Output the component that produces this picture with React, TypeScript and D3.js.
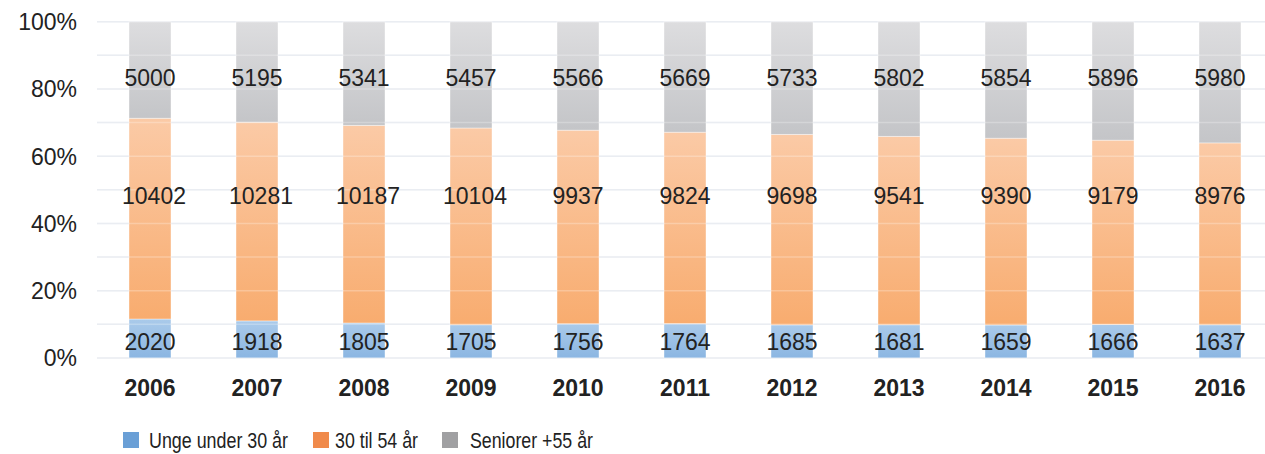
import React, { useEffect, useRef } from 'react';
import * as d3 from 'd3';

const years = ['2006', '2007', '2008', '2009', '2010', '2011', '2012', '2013', '2014', '2015', '2016'];
const unge = [2020, 1918, 1805, 1705, 1756, 1764, 1685, 1681, 1659, 1666, 1637];
const midt = [10402, 10281, 10187, 10104, 9937, 9824, 9698, 9541, 9390, 9179, 8976];
const senior = [5000, 5195, 5341, 5457, 5566, 5669, 5733, 5802, 5854, 5896, 5980];
const seriesNames = ['Unge under 30 år', '30 til 54 år', 'Seniorer +55 år'];
const yTicks = [0, 0.2, 0.4, 0.6, 0.8, 1];

export default function App() {
  const ref = useRef<SVGSVGElement>(null);

  useEffect(() => {
    draw();
    // eslint-disable-next-line react-hooks/exhaustive-deps
  }, []);

  function draw() {
    const svg = d3.select(ref.current);
    svg.selectAll('*').remove();
    const width = 1265;
    const height = 454;
    const font = 'Liberation Sans, Arial, sans-serif';

    const xScale = d3.scaleBand().domain(years).range([96.5, 1273.5]).paddingInner(0.6).paddingOuter(0.3);
    const yScale = d3.scaleLinear().domain([0, 1]).range([358, 21.7]);

    const defs = svg.append('defs');
    const grads = [
      { id: 'g0', top: '#aacaea', bottom: '#8bb6e2' },
      { id: 'g1', top: '#fbcaa6', bottom: '#f8ac6f' },
      { id: 'g2', top: '#dddddf', bottom: '#c4c5c8' },
    ];
    grads.forEach((g) => {
      const lg = defs.append('linearGradient').attr('id', g.id).attr('x1', 0).attr('y1', 0).attr('x2', 0).attr('y2', 1);
      lg.append('stop').attr('offset', '0%').attr('stop-color', g.top);
      lg.append('stop').attr('offset', '100%').attr('stop-color', g.bottom);
    });

    // gridlines
    const grid = d3.range(0, 11).map((d) => d / 10);
    svg.append('g')
      .selectAll('line')
      .data(grid)
      .enter()
      .append('line')
      .attr('x1', 97)
      .attr('x2', width)
      .attr('y1', (d) => yScale(d))
      .attr('y2', (d) => yScale(d))
      .attr('stroke', '#e3e7ee')
      .attr('stroke-width', 1.5);

    // stacked bars
    const rows = years.map((y, i) => {
      const total = unge[i] + midt[i] + senior[i];
      return { year: y, vals: [unge[i], midt[i], senior[i]], total };
    });
    const bw = 42;
    rows.forEach((r) => {
      let acc = 0;
      const cx = (xScale(r.year) as number) + xScale.bandwidth() / 2;
      r.vals.forEach((v, k) => {
        const y0 = acc / r.total;
        const y1 = (acc + v) / r.total;
        acc += v;
        svg.append('rect')
          .attr('x', cx - bw / 2)
          .attr('width', bw)
          .attr('y', yScale(y1))
          .attr('height', yScale(y0) - yScale(y1))
          .attr('fill', `url(#g${k})`)
          .attr('stroke', 'rgba(255,255,255,0.5)')
          .attr('stroke-width', 0.8);
      });
    });

    // gridlines over bars, faint
    svg.append('g')
      .selectAll('line')
      .data(grid)
      .enter()
      .append('line')
      .attr('x1', 97)
      .attr('x2', width)
      .attr('y1', (d) => yScale(d))
      .attr('y2', (d) => yScale(d))
      .attr('stroke', '#ffffff')
      .attr('stroke-opacity', 0.25)
      .attr('stroke-width', 1.5);

    // data labels, fixed levels
    const labelLevels = [0.048, 0.484, 0.833];
    rows.forEach((r) => {
      const cx = (xScale(r.year) as number) + xScale.bandwidth() / 2;
      r.vals.forEach((v, k) => {
        svg.append('text')
          .text(v)
          .attr('x', cx + (String(v).length > 4 ? 4 : 0))
          .attr('y', yScale(labelLevels[k]))
          .attr('dy', '0.36em')
          .attr('text-anchor', 'middle')
          .attr('font-family', font)
          .attr('font-size', 23)
          .attr('fill', '#222');
      });
    });

    // y tick labels
    svg.append('g')
      .selectAll('text')
      .data(yTicks)
      .enter()
      .append('text')
      .text((d) => `${Math.round(d * 100)}%`)
      .attr('x', 77)
      .attr('y', (d) => yScale(d))
      .attr('dy', '0.36em')
      .attr('text-anchor', 'end')
      .attr('font-family', font)
      .attr('font-size', 23)
      .attr('fill', '#222');

    // x labels
    svg.append('g')
      .selectAll('text')
      .data(years)
      .enter()
      .append('text')
      .text((d) => d)
      .attr('x', (d) => (xScale(d) as number) + xScale.bandwidth() / 2)
      .attr('y', 388)
      .attr('dy', '0.36em')
      .attr('text-anchor', 'middle')
      .attr('font-family', font)
      .attr('font-size', 23)
      .attr('font-weight', 'bold')
      .attr('fill', '#222');

    // legend
    const legendColors = ['#6a9fd6', '#f08a4b', '#a0a0a2'];
    const legendX = [123, 313, 442];
    const textX = [149, 335, 470];
    const textW = [139, 83, 123];
    seriesNames.forEach((name, k) => {
      svg.append('rect')
        .attr('x', legendX[k])
        .attr('y', 432)
        .attr('width', 16)
        .attr('height', 16)
        .attr('fill', legendColors[k]);
      svg.append('text')
        .text(name)
        .attr('x', textX[k])
        .attr('y', 440)
        .attr('dy', '0.36em')
        .attr('font-family', font)
        .attr('font-size', 22)
        .attr('textLength', textW[k])
        .attr('lengthAdjust', 'spacingAndGlyphs')
        .attr('fill', '#222');
    });

    svg.attr('width', width).attr('height', height);
  }

  return (
    <svg
      ref={ref}
      width={1265}
      height={454}
      style={{ position: 'absolute', left: 0, top: 0, background: '#fff' }}
    />
  );
}
